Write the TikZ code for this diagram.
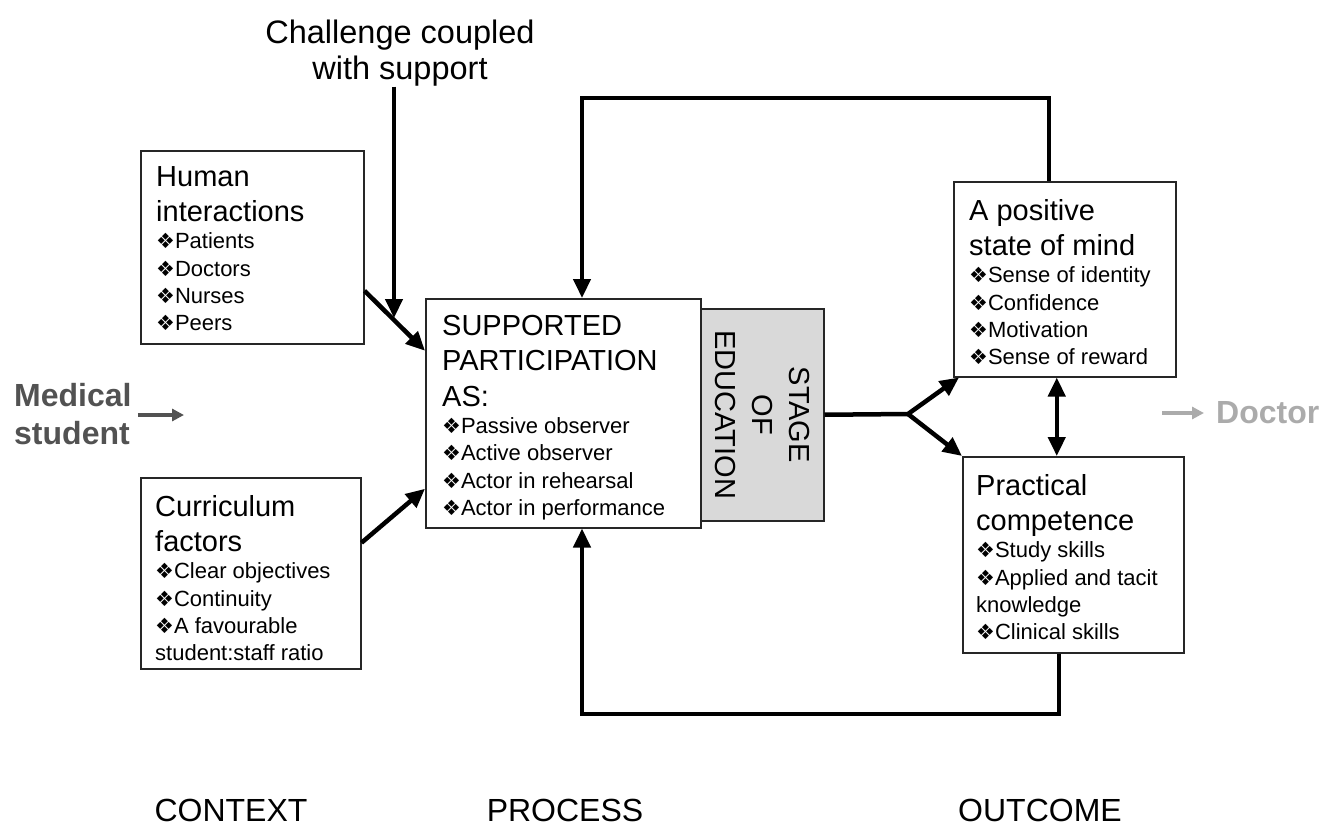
\documentclass[tikz,border=0pt]{standalone}
\usepackage{fontspec}
\setmainfont{Liberation Sans}
\newfontfamily\symfont{DejaVu Sans}
\usetikzlibrary{arrows.meta}
\usetikzlibrary{positioning}
\setlength{\parindent}{0pt}
\newcommand{\bul}{{\symfont\fontsize{21}{27}\selectfont\char"2756}}
\newcommand{\bigfont}{\fontsize{29}{35.5}\selectfont}
\newcommand{\smallfont}{\fontsize{22}{27.2}\selectfont}

\tikzset{
  box/.style={draw=black!85, line width=1.5pt, anchor=north west, inner sep=0pt},
  boxtext/.style={anchor=north west, inner sep=0pt, text width=#1, align=flush left},
  arr/.style={line width=4.5pt, -{Triangle[length=19pt,width=17pt]}},
  dblarr/.style={line width=4.5pt, {Triangle[length=19pt,width=17pt]}-{Triangle[length=19pt,width=17pt]}},
  sidearr/.style={line width=3.5pt, -{Triangle[length=12pt,width=12pt]}},
  footer/.style={font=\fontsize{32}{38}\selectfont, anchor=base, inner sep=0pt}
}

\begin{document}
\begin{tikzpicture}[x=1pt,y=-1pt]
  \useasboundingbox (0,0) rectangle (1328,830);

  % boxes
  \node[box, fill=black!15, minimum width=123pt, minimum height=212pt] (stage) at (700,308) {};
  \node[box, fill=white, minimum width=275pt, minimum height=229pt] (sup) at (425,298) {};
  \node[box, minimum width=223pt, minimum height=193pt] (human) at (140,150) {};
  \node[box, minimum width=220pt, minimum height=191pt] (curr) at (140,477) {};
  \node[box, minimum width=222pt, minimum height=195pt] (pos) at (953,181) {};
  \node[box, minimum width=221pt, minimum height=196pt] (prac) at (962,456) {};

  % box texts
  \node[boxtext=200pt] (humantxt) at ([shift={(16,16)}]human.north west)
    {\bigfont Human\\interactions\par\smallfont\bul Patients\\\bul Doctors\\\bul Nurses\\\bul Peers\par};
  \node[boxtext=200pt] (currtxt) at ([shift={(15,18)}]curr.north west)
    {\bigfont Curriculum\\factors\par\smallfont\bul Clear objectives\\\bul Continuity\\\bul A favourable\\student:staff ratio\par};
  \node[boxtext=250pt] (suptxt) at ([shift={(17,17)}]sup.north west)
    {\bigfont SUPPORTED\\PARTICIPATION\\AS:\par\smallfont\bul Passive observer\\\bul Active observer\\\bul Actor in rehearsal\\\bul Actor in performance\par};
  \node[rotate=-90, align=center, inner sep=0pt, font=\fontsize{29}{37}\selectfont] (stagetxt) at (stage.center)
    {STAGE\\OF\\EDUCATION};
  \node[boxtext=200pt] (postxt) at ([shift={(16,18)}]pos.north west)
    {\bigfont A positive\\state of mind\par\smallfont\bul Sense of identity\\\bul Confidence\\\bul Motivation\\\bul Sense of reward\par};
  \node[boxtext=205pt] (practxt) at ([shift={(14,18)}]prac.north west)
    {\bigfont Practical\\competence\par\smallfont\bul Study skills\\\bul Applied and tacit\\knowledge\\\bul Clinical skills\par};

  % free labels
  \node[align=center, inner sep=0pt, anchor=north, font=\fontsize{32.5}{36}\selectfont] (chal) at (400,20)
    {Challenge coupled\\with support};
  \node[align=left, anchor=west, inner sep=0pt, text=black!68, font=\bfseries\fontsize{32}{38}\selectfont] (med) at (14,414)
    {Medical\\student};
  \node[anchor=west, inner sep=0pt, text=black!33, font=\bfseries\fontsize{32}{38}\selectfont] (doc) at (1216,413) {Doctor};

  \node[footer] (context) at (231,821) {CONTEXT};
  \node[footer] (process) at (565,821) {PROCESS};
  \node[footer] (outcome) at (1040,821) {OUTCOME};

  % connectors
  \coordinate (chaltip) at (394,318);
  \coordinate (fork) at (908,414);
  \coordinate (looptop) at (582,98);
  \coordinate (loopbot) at (582,714);
  \coordinate (medtip) at (184,415);
  \coordinate (docstart) at (1162,413);

  \draw[arr] (chal.south -| chaltip) -- (chaltip);
  \draw[arr] ([yshift=-43.5pt]human.east) -- ([yshift=62.5pt]sup.west);
  \draw[arr] ([yshift=30.5pt]curr.east) -- ([yshift=-75.5pt]sup.west);
  \draw[arr] (stage.east) -- (fork) -- ([xshift=6pt]pos.south west);
  \draw[arr] (fork) -- (prac.north west);
  \coordinate (dtop) at ([xshift=-8pt]pos.south);
  \draw[dblarr] (dtop) -- (dtop |- prac.north);
  \draw[arr] ([xshift=-16pt]pos.north) |- (looptop) -- (looptop |- sup.north);
  \draw[arr] ([xshift=-14.5pt]prac.south) |- (loopbot) -- (loopbot |- sup.south);

  \draw[sidearr, draw=black!68] ([xshift=6pt]med.east |- medtip) -- (medtip);
  \draw[sidearr, draw=black!33] (docstart) -- ([xshift=-12pt]doc.west);
\end{tikzpicture}
\end{document}
